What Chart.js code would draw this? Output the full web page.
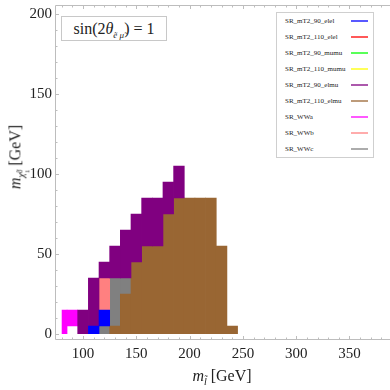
<!DOCTYPE html>
<html>
<head>
<meta charset="utf-8">
<script src="https://cdn.jsdelivr.net/npm/chart.js@4.4.1/dist/chart.umd.min.js"></script>
<style>
  html, body { margin: 0; padding: 0; background: #fff; }
  #wrap { position: relative; width: 390px; height: 390px; overflow: hidden;
          font-family: 'Liberation Serif', 'DejaVu Serif', serif; color: #222; }
  #chart { position: absolute; left: 0; top: 0; }
  #note { position: absolute; left: 61px; top: 16px; width: 104px; height: 23px;
          border: 1px solid #c8c8c8; background: #fff; font-size: 16px; line-height: 23px; text-align: center; }
  #note sub { font-size: 9px; font-style: italic; }
  #legend { position: absolute; left: 276px; top: 12px; width: 96px; height: 144px;
            border: 1px solid #cfcfcf; background: #fff; }
  #legend .item { position: relative; height: 16px; font-size: 7px; line-height: 16px; padding-left: 8px; white-space: nowrap; }
  #legend .line { position: absolute; left: 74px; top: 7px; width: 17px; height: 2px; opacity: 0.65; }
  .title { position: absolute; font-size: 16px; white-space: nowrap; transform: translate(-50%, -50%); }
  .title sub { font-size: 10px; }
  #ytitle { left: 19px; top: 157px; transform: translate(-50%, -50%) rotate(-90deg); }
  .stack { display: inline-block; vertical-align: -5px; font-size: 7px; line-height: 7px; text-align: left; }
  .stack span { display: block; }
</style>
</head>
<body>
<div id="wrap">
  <canvas id="chart" width="390" height="390"></canvas>
  <div id="note">sin(2<i>θ</i><sub>ẽ μ̃</sub>) = 1</div>
  <div id="legend"></div>
  <div class="title" id="xtitle" style="left:222px; top:377px;"><i>m</i><sub><i>l̃</i></sub> [GeV]</div>
  <div class="title" id="ytitle"><i>m</i><sub><i>χ̃</i><span class="stack"><span>0</span><span>1</span></span></sub> [GeV]</div>
</div>
<script>
// grid of mass points (GeV)
const mSlepton = [80, 90, 100, 110, 120, 130, 140, 150, 160, 170, 180, 190, 200, 210, 220, 230, 240];
const mNeutralino = [0, 10, 20, 30, 40, 50, 60, 70, 80, 90, 100];

const regionNames = ['SR_mT2_90_elel', 'SR_mT2_110_elel', 'SR_mT2_90_mumu', 'SR_mT2_110_mumu',
                     'SR_mT2_90_elmu', 'SR_mT2_110_elmu', 'SR_WWa', 'SR_WWb', 'SR_WWc'];
const regionColors = ['#0000ff', '#ff0000', '#00ff00', '#ffff00',
                      '#800080', '#996633', '#ff00ff', '#ff8080', '#808080'];

// best excluding region at each point, one row per neutralino mass (index into regionNames)
const n = null;
const bestRegion = [
  [6, n, 4, 0, 8, 5, 5, 5, 5, 5, 5, 5, 5, 5, 5, 5, 5],   // 0
  [6, 6, 4, 4, 0, 8, 5, 5, 5, 5, 5, 5, 5, 5, 5, 5, n],   // 10
  [n, n, n, 4, 7, 8, 5, 5, 5, 5, 5, 5, 5, 5, 5, 5, n],   // 20
  [n, n, n, 4, 7, 8, 8, 5, 5, 5, 5, 5, 5, 5, 5, 5, n],   // 30
  [n, n, n, n, 4, 4, 4, 5, 5, 5, 5, 5, 5, 5, 5, 5, n],   // 40
  [n, n, n, n, n, 4, 4, 4, 5, 5, 5, 5, 5, 5, 5, 5, n],   // 50
  [n, n, n, n, n, n, 4, 4, 4, 4, 5, 5, 5, 5, 5, n, n],   // 60
  [n, n, n, n, n, n, n, 4, 4, 4, 5, 5, 5, 5, 5, n, n],   // 70
  [n, n, n, n, n, n, n, n, 4, 4, 4, 5, 5, 5, 5, n, n],   // 80
  [n, n, n, n, n, n, n, n, n, n, 4, 4, n, n, n, n, n],   // 90
  [n, n, n, n, n, n, n, n, n, n, n, 4, n, n, n, n, n]    // 100
];

const xTicks = [100, 150, 200, 250, 300, 350];
const yTicks = [0, 50, 100, 150, 200];

const serif = "'Liberation Serif', 'DejaVu Serif', serif";

// one floating bar per column run of the same region
function buildCells(r) {
  const half = (mNeutralino[1] - mNeutralino[0]) / 2;
  const cells = [];
  mSlepton.forEach((m, i) => {
    let start = null;
    for (let j = 0; j <= mNeutralino.length; j++) {
      const hit = j < mNeutralino.length && bestRegion[j][i] === r;
      if (hit && start === null) start = j;
      if (!hit && start !== null) {
        cells.push({ x: m, y: [mNeutralino[start] - half, mNeutralino[j - 1] + half] });
        start = null;
      }
    }
  });
  return cells;
}

const datasets = regionNames.map((name, r) => ({
  label: name,
  data: buildCells(r),
  backgroundColor: regionColors[r],
  borderWidth: 0,
  grouped: false,
  categoryPercentage: 1,
  barPercentage: 1
}));

// cells at the edge of the grid are only half cells
const gridClip = {
  id: 'gridClip',
  beforeDatasetsDraw(chart) {
    const { ctx, chartArea, scales } = chart;
    const left = scales.x.getPixelForValue(mSlepton[0]);
    const bottom = scales.y.getPixelForValue(mNeutralino[0]);
    ctx.save();
    ctx.beginPath();
    ctx.rect(left, chartArea.top, chartArea.right - left, bottom - chartArea.top);
    ctx.clip();
  },
  afterDatasetsDraw(chart) {
    chart.ctx.restore();
  }
};

// frame with inward ticks (Mathematica style)
const frame = {
  id: 'frame',
  afterDraw(chart) {
    const { ctx, chartArea: a, scales } = chart;
    ctx.save();
    ctx.strokeStyle = '#bdbdbd';
    ctx.lineWidth = 1;
    ctx.beginPath();
    ctx.moveTo(a.right, a.top + 0.5);
    ctx.lineTo(a.left + 0.5, a.top + 0.5);
    ctx.lineTo(a.left + 0.5, a.bottom - 0.5);
    ctx.lineTo(a.right, a.bottom - 0.5);
    for (let v = 80; v <= scales.x.max; v += 10) {
      const px = Math.round(scales.x.getPixelForValue(v)) + 0.5;
      const len = v % 50 === 0 ? 4 : 2.5;
      ctx.moveTo(px, a.bottom);
      ctx.lineTo(px, a.bottom - len);
      ctx.moveTo(px, a.top);
      ctx.lineTo(px, a.top + len);
    }
    for (let v = 0; v <= scales.y.max; v += 10) {
      const py = Math.round(scales.y.getPixelForValue(v)) + 0.5;
      const len = v % 50 === 0 ? 4 : 2.5;
      ctx.moveTo(a.left, py);
      ctx.lineTo(a.left + len, py);
    }
    ctx.stroke();
    ctx.restore();
  }
};

// legend box built from the datasets
const htmlLegend = {
  id: 'htmlLegend',
  afterUpdate(chart) {
    const box = document.getElementById('legend');
    box.innerHTML = '';
    chart.data.datasets.forEach(ds => {
      const item = document.createElement('div');
      item.className = 'item';
      item.textContent = ds.label;
      const line = document.createElement('div');
      line.className = 'line';
      line.style.background = ds.backgroundColor;
      item.appendChild(line);
      box.appendChild(item);
    });
  }
};

new Chart(document.getElementById('chart').getContext('2d'), {
  type: 'bar',
  data: { datasets: datasets },
  options: {
    responsive: false,
    animation: false,
    layout: { padding: { top: 5, right: 0, bottom: 0, left: 0 } },
    plugins: { legend: { display: false }, tooltip: { enabled: false } },
    scales: {
      x: {
        type: 'linear',
        min: 73.7,
        max: 388,
        offset: false,
        grid: { display: false, drawTicks: false },
        border: { display: false },
        afterBuildTicks: s => { s.ticks = xTicks.map(v => ({ value: v })); },
        afterFit: s => { s.height = 50; s.paddingLeft = 0; s.paddingRight = 0; },
        ticks: { color: '#222', font: { family: serif, size: 15 }, padding: 5, maxRotation: 0, autoSkip: false }
      },
      y: {
        type: 'linear',
        min: -3.75,
        max: 205.6,
        grid: { display: false, drawTicks: false },
        border: { display: false },
        afterBuildTicks: s => { s.ticks = yTicks.map(v => ({ value: v })); },
        afterFit: s => { s.width = 55; s.paddingTop = 0; s.paddingBottom = 0; },
        ticks: { color: '#222', font: { family: serif, size: 15 }, padding: 3 }
      }
    }
  },
  plugins: [gridClip, frame, htmlLegend]
});
</script>
</body>
</html>
